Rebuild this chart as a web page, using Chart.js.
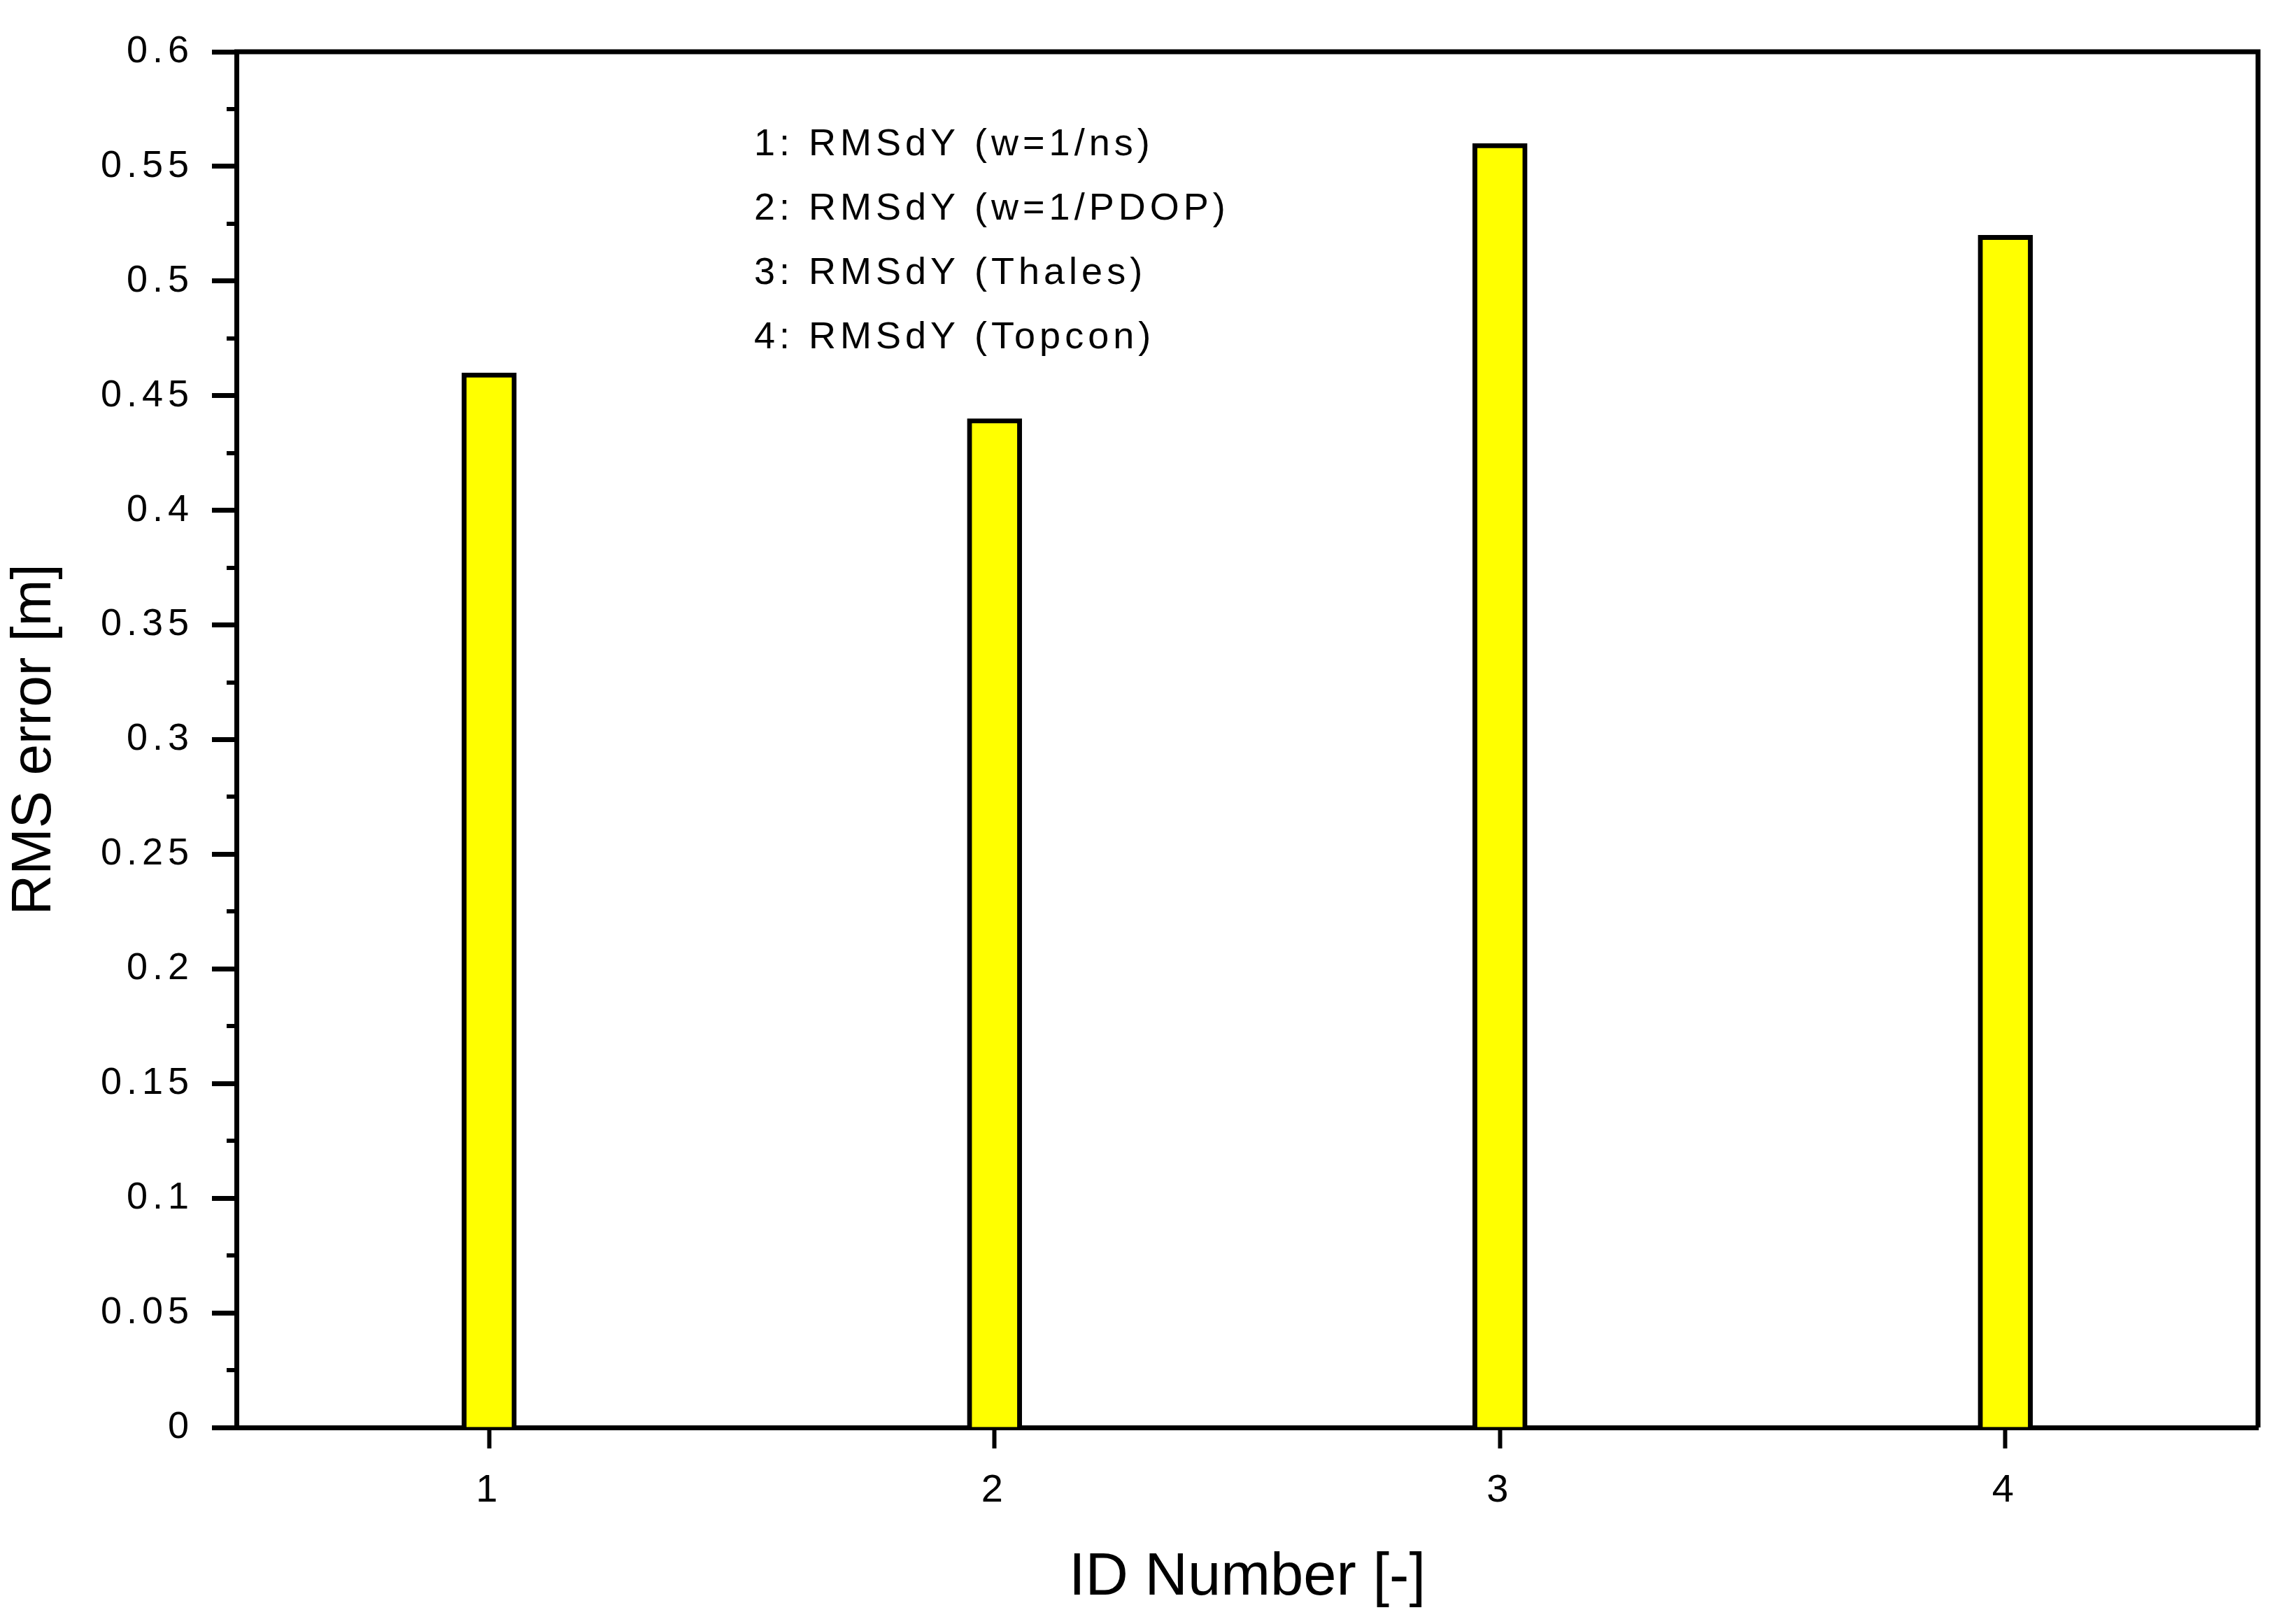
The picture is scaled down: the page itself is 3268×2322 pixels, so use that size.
<!DOCTYPE html>
<html><head><meta charset="utf-8">
<style>html,body{margin:0;padding:0;background:#fff;}#wrap{width:3268px;height:2322px;}</style>
<script src="https://cdn.jsdelivr.net/npm/chart.js@4.4.1/dist/chart.umd.min.js"></script>
</head><body><div id="wrap"><canvas id="c" width="3268" height="2322"></canvas></div>
<script>
const categories = ['1', '2', '3', '4'];
const rmsValues = [0.46, 0.44, 0.56, 0.52];
const yMin = 0, yMax = 0.6, yStep = 0.05, yMinorStep = 0.025;
const legendLines = ['1: RMSdY (w=1/ns)', '2: RMSdY (w=1/PDOP)', '3: RMSdY (Thales)', '4: RMSdY (Topcon)'];
const xTitle = 'ID Number [-]';
const yTitle = 'RMS error [m]';

const FONT = "'Liberation Sans', Arial, sans-serif";

const framePlugin = {
  id: 'frame',
  beforeDraw(chart) { chart.ctx.letterSpacing = '7px'; },
  afterDatasetsDraw(chart) {
    const ctx = chart.ctx, a = chart.chartArea, y = chart.scales.y;
    ctx.save();
    ctx.strokeStyle = '#000';
    ctx.lineWidth = 7;
    ctx.beginPath();
    ctx.moveTo(a.left - 3, a.top); ctx.lineTo(a.right, a.top);
    ctx.lineTo(a.right, a.bottom);
    ctx.stroke();
    // minor ticks
    ctx.lineWidth = 6;
    for (let v = yMin + yMinorStep; v < yMax; v += yStep) {
      const py = Math.round(y.getPixelForValue(v));
      ctx.beginPath(); ctx.moveTo(a.left - 14, py); ctx.lineTo(a.left, py); ctx.stroke();
    }
    ctx.restore();
  },
  afterDraw(chart) {
    const ctx = chart.ctx, a = chart.chartArea;
    ctx.save();
    ctx.letterSpacing = '6px';
    ctx.fillStyle = '#000';
    ctx.font = '54px ' + FONT;
    ctx.textAlign = 'left';
    ctx.textBaseline = 'middle';
    legendLines.forEach((t, i) => ctx.fillText(t, a.left + 740, a.top + 133 + i * 92));
    ctx.restore();
  }
};

const chart = new Chart(document.getElementById('c'), {
  type: 'bar',
  data: {
    labels: categories,
    datasets: [{
      data: rmsValues,
      backgroundColor: '#ffff00',
      borderColor: '#000',
      borderWidth: 7,
      barThickness: 78
    }]
  },
  options: {
    responsive: false,
    animation: false,
    devicePixelRatio: 1,
    layout: { padding: { top: 74, right: 40, left: 0, bottom: 0 } },
    plugins: { legend: { display: false }, tooltip: { enabled: false } },
    scales: {
      x: {
        offset: true,
        grid: { display: true, offset: false, drawOnChartArea: false, drawTicks: true, tickLength: 30, tickWidth: 6, tickColor: '#000' },
        border: { display: true, color: '#000', width: 7 },
        ticks: { color: '#000', font: { family: FONT, size: 56 }, padding: 27, maxRotation: 0 },
        title: { display: true, text: xTitle, color: '#000', font: { family: FONT, size: 85 }, padding: { top: 0, bottom: 14 } },
        afterFit(s) { s.height = 281; }
      },
      y: {
        min: yMin, max: yMax,
        grid: { display: true, drawOnChartArea: false, drawTicks: true, tickLength: 35, tickWidth: 7, tickColor: '#000' },
        border: { display: true, color: '#000', width: 7 },
        ticks: { stepSize: yStep, color: '#000', font: { family: FONT, size: 54 }, padding: 26,
          callback: v => String(Number(v.toFixed(3))) },
        title: { display: true, text: yTitle, color: '#000', font: { family: FONT, size: 80 }, padding: { top: 2, bottom: 0 } },
        afterFit(s) { s.width = 338; }
      }
    }
  },
  plugins: [framePlugin]
});
Object.values(chart.scales).forEach(s => {
  const orig = s.drawTitle.bind(s);
  s.drawTitle = function () {
    const ctx = this.ctx; const prev = ctx.letterSpacing;
    ctx.letterSpacing = '0px'; orig(); ctx.letterSpacing = prev;
  };
});
chart.draw();
</script></body></html>
